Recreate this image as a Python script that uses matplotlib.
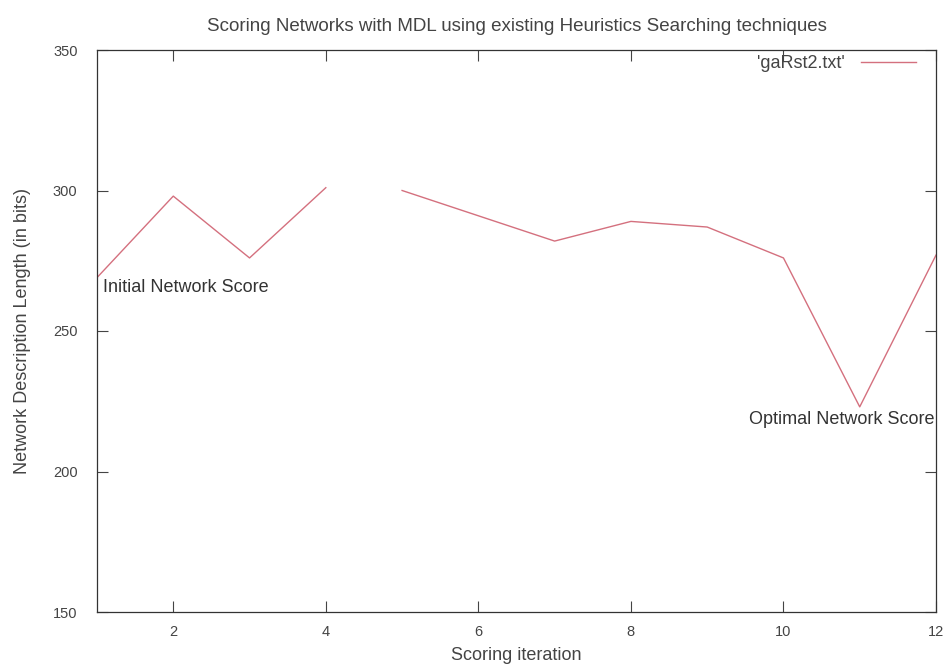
import numpy as np
import matplotlib
matplotlib.use("Agg")
import matplotlib.pyplot as plt

# scoring run, iteration 4 -> 5 has no recorded score
iterations = [1, 2, 3, 4, 4.5, 5, 6, 7, 8, 9, 10, 11, 12]
scores = [269, 298, 276, 301, np.nan, 300, 291, 282, 289, 287, 276, 223, 277]

x_ticks = [2, 4, 6, 8, 10, 12]
y_ticks = [150, 200, 250, 300, 350]

plt.rcParams["font.family"] = ["Liberation Sans", "DejaVu Sans"]

fig = plt.figure(figsize=(9.46, 6.65), dpi=100)
ax = fig.add_axes([97 / 946, 1 - 612 / 665, (936 - 97) / 946, (612 - 50) / 665])

ax.plot(iterations, scores, color="#d4707e", lw=1.0, label="'gaRst2.txt'")

ax.set_xlim(1, 12)
ax.set_ylim(150, 350)
ax.set_xticks(x_ticks)
ax.set_yticks(y_ticks)
ax.tick_params(direction="in", length=8, width=0.8, top=True, right=True,
               labelsize=10.5, colors="#444444")
ax.tick_params(axis="y", pad=14)
ax.tick_params(axis="x", pad=9)
for s in ax.spines.values():
    s.set_linewidth(0.9)
    s.set_color("#333333")

ax.annotate("Initial Network Score", xy=(1, 269), xytext=(4, -1),
            textcoords="offset points", ha="left", va="top",
            fontsize=13, color="#333333")
ax.annotate("Optimal Network Score", xy=(11, 223), xytext=(-13, -3),
            textcoords="offset points", ha="center", va="top",
            fontsize=13, color="#333333", annotation_clip=False)

ax.set_title("Scoring Networks with MDL using existing Heuristics Searching techniques",
             fontsize=13.5, color="#444444", pad=14)
ax.set_xlabel("Scoring iteration", fontsize=13, color="#444444", labelpad=6)
ax.set_ylabel("Network Description Length (in bits)", fontsize=13,
              color="#444444", labelpad=16)

ax.legend(loc="upper right", bbox_to_anchor=(0.995, 1.02), frameon=False,
          markerfirst=False, fontsize=13, handlelength=3.0, handletextpad=0.9,
          labelcolor="#444444")

fig.savefig("out.png", dpi=100, facecolor="white")
